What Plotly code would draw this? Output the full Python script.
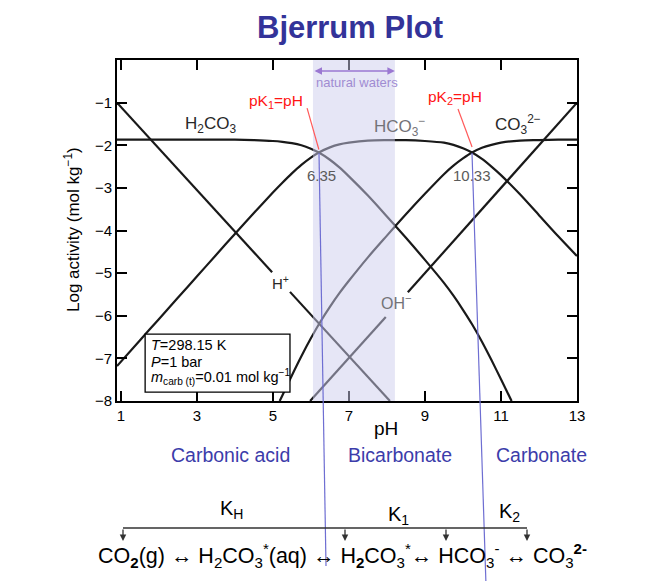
import plotly.graph_objects as go

# ---------------- data ----------------
ph_h2co3 = [0.9, 1.5, 2.0, 2.5, 3.0, 3.5, 4.0, 4.5, 5.0, 5.25, 5.5, 5.75, 6.0, 6.21,
            6.5, 6.75, 7.0, 7.5, 8.0, 8.5, 9.0, 9.5, 9.75, 10.0, 10.24, 10.5, 10.75, 11.0, 11.28]
log_h2co3 = [-1.87, -1.87, -1.87, -1.87, -1.87, -1.87, -1.87, -1.88, -1.90, -1.92, -1.95, -2.00, -2.08, -2.17,
             -2.34, -2.52, -2.73, -3.18, -3.67, -4.17, -4.69, -5.23, -5.53, -5.86, -6.20, -6.61, -7.04, -7.49, -8.0]

ph_hco3 = [0.9, 1.5, 2.0, 2.5, 3.0, 3.5, 4.0, 4.5, 5.0, 5.25, 5.5, 5.75, 6.0, 6.21, 6.5, 6.75,
           7.0, 7.5, 8.0, 8.5, 9.0, 9.5, 9.75, 10.0, 10.24, 10.5, 10.75, 11.0, 11.5, 12.0, 12.5, 13.0]
log_hco3 = [-7.18, -6.58, -6.08, -5.58, -5.08, -4.58, -4.08, -3.59, -3.11, -2.88, -2.66, -2.46, -2.29, -2.17, -2.05, -1.98,
            -1.94, -1.89, -1.88, -1.88, -1.90, -1.94, -1.99, -2.07, -2.17, -2.32, -2.50, -2.70, -3.15, -3.64, -4.13, -4.60]

ph_co3 = [5.18, 5.25, 5.5, 5.75, 6.0, 6.25, 6.5, 6.75, 7.0, 7.5, 8.0, 8.5, 9.0, 9.5, 9.75,
          10.0, 10.24, 10.5, 10.75, 11.0, 11.5, 12.0, 12.5, 13.0]
log_co3 = [-8.0, -7.87, -7.40, -6.95, -6.53, -6.14, -5.79, -5.47, -5.18, -4.63, -4.12, -3.62, -3.14, -2.68, -2.48,
           -2.31, -2.17, -2.06, -1.99, -1.94, -1.89, -1.88, -1.87, -1.87]

ph_h = [0.9, 4.98, None, 5.45, 8.08]
log_h = [-1.0, -4.98, None, -5.44, -8.0]

ph_oh = [5.98, 7.97, None, 8.55, 13.0]
log_oh = [-8.0, -6.03, None, -5.45, -1.0]

x_ticks = [1, 3, 5, 7, 9, 11, 13]
y_ticks = [-8, -7, -6, -5, -4, -3, -2, -1]

natural_waters = [6.055, 8.21]
pk1_label, pk2_label = "6.35", "10.33"
pk1_pos, pk2_pos = 6.21, 10.24

# ---------------- layout helpers ----------------
W, H = 657, 581
OFF = 8                      # page body margin offset
PLOT_L, PLOT_T = 117, 60     # plot area position on screen
PW, PHh = 460, 341
ML, MT = PLOT_L - OFF, PLOT_T - OFF
MR = W - ML - PW
MB = H - MT - PHh
def px(x):
    return (x - PLOT_L) / PW
def py(y):
    return (PLOT_T + PHh - y) / PHh

FONT = "Liberation Sans, Arial, Helvetica, sans-serif"
LINE = "rgb(25,25,25)"

fig = go.Figure()
for xs, ys in [(ph_h2co3, log_h2co3), (ph_hco3, log_hco3), (ph_co3, log_co3)]:
    fig.add_trace(go.Scatter(x=xs, y=ys, mode="lines", line=dict(color=LINE, width=2.2, shape="spline", smoothing=0.8),
                             showlegend=False, hoverinfo="skip"))
for xs, ys in [(ph_h, log_h), (ph_oh, log_oh)]:
    fig.add_trace(go.Scatter(x=xs, y=ys, mode="lines", line=dict(color=LINE, width=2.2),
                             showlegend=False, hoverinfo="skip", connectgaps=False))

shapes = [
    dict(type="rect", xref="x", yref="y", x0=natural_waters[0], x1=natural_waters[1], y0=-8, y1=0,
         fillcolor="rgb(205,205,238)", opacity=0.5, line=dict(width=0), layer="above"),
    dict(type="rect", xref="x", yref="y", x0=1.64, x1=5.45, y0=-7.79, y1=-6.43,
         fillcolor="white", line=dict(color="black", width=1.3), layer="above"),
    dict(type="line", xref="x", yref="y", x0=5.90, y0=-1.13, x1=6.21, y1=-2.10,
         line=dict(color="rgb(255,90,90)", width=1.2), layer="above"),
    dict(type="line", xref="x", yref="y", x0=9.87, y0=-1.15, x1=10.24, y1=-2.04,
         line=dict(color="rgb(255,90,90)", width=1.2), layer="above"),
    dict(type="line", xref="paper", yref="paper", x0=px(319), y0=py(153), x1=px(326), y1=py(566),
         line=dict(color="rgb(110,110,210)", width=1.2), layer="above"),
    dict(type="line", xref="paper", yref="paper", x0=px(472), y0=py(153), x1=px(486), y1=py(585),
         line=dict(color="rgb(110,110,210)", width=1.2), layer="above"),
    dict(type="line", xref="paper", yref="paper", x0=px(123), y0=py(528), x1=px(527), y1=py(528),
         line=dict(color="rgb(50,50,50)", width=1.3), layer="above"),
]

ann = []
def A(text, x, y, size, color="black", xref="x", yref="y", **kw):
    d = dict(text=text, x=x, y=y, xref=xref, yref=yref, showarrow=False,
             xanchor="center", yanchor="middle",
             font=dict(family=FONT, size=size, color=color))
    d.update(kw)
    ann.append(d)

A("<b>Bjerrum Plot</b>", px(350), py(27), 31, "rgb(51,51,153)", "paper", "paper")
A("H<sub>2</sub>CO<sub>3</sub>", 3.37, -1.52, 17, "rgb(40,40,40)")
A("HCO<sub>3</sub><sup>−</sup>", 8.33, -1.55, 17, "rgb(115,115,120)")
A("CO<sub>3</sub><sup>2−</sup>", 11.45, -1.52, 17, "rgb(40,40,40)")
A("H<sup>+</sup>", 5.19, -5.23, 15, "rgb(40,40,40)")
A("OH<sup>−</sup>", 8.26, -5.68, 16, "rgb(115,115,120)")
A(pk1_label, pk1_pos + 0.08, -2.72, 15, "rgb(90,90,90)")
A(pk2_label, pk2_pos, -2.72, 15, "rgb(90,90,90)")
A("pK<sub>1</sub>=pH", 5.08, -0.98, 15.5, "rgb(255,20,20)")
A("pK<sub>2</sub>=pH", 9.79, -0.87, 15.5, "rgb(255,20,20)")
ann.append(dict(x=natural_waters[1], y=-0.26, ax=natural_waters[0], ay=-0.26, xref="x", yref="y",
                axref="x", ayref="y", text="", showarrow=True, arrowhead=2, arrowside="end+start",
                arrowsize=1, arrowwidth=1.5, arrowcolor="rgb(155,120,210)"))
A("natural waters", 7.21, -0.52, 13, "rgb(160,140,210)")
A("<i>T</i>=298.15 K", 1.742, -6.686, 14.5, xanchor="left")
A("<i>P</i>=1 bar", 1.742, -7.085, 14.5, xanchor="left")
A("<i>m</i><sub>carb (t)</sub>=0.01 mol kg<sup>−1</sup>", 1.742, -7.437, 14.5, xanchor="left")
A("pH", px(386), py(428), 19, "black", "paper", "paper")
A("Log activity (mol kg<sup>−1</sup>)", px(72), py(230), 17, "black", "paper", "paper", textangle=-90)
A("Carbonic acid", px(230), py(455), 19.5, "rgb(60,60,170)", "paper", "paper")
A("Bicarbonate", px(400), py(455), 19.5, "rgb(60,60,170)", "paper", "paper")
A("Carbonate", px(541), py(455), 19.5, "rgb(60,60,170)", "paper", "paper")
A("K<sub>H</sub>", px(231), py(509), 20, "black", "paper", "paper")
A("K<sub>1</sub>", px(398), py(515), 20, "black", "paper", "paper")
A("K<sub>2</sub>", px(509), py(512), 20, "black", "paper", "paper")
for xa in [123, 345, 446, 527]:
    ann.append(dict(x=px(xa), y=py(541), xref="paper", yref="paper", ax=0, ay=-13, text="",
                    showarrow=True, arrowhead=2, arrowsize=1, arrowwidth=1.3, arrowcolor="rgb(50,50,50)"))
A("CO<sub><b>2</b></sub>(g) ↔ H<sub>2</sub>CO<sub>3</sub><sup>*</sup>(aq) ↔ H<sub><b>2</b></sub>CO<sub>3</sub><sup>*</sup>↔ "
  "HCO<sub>3</sub><sup>-</sup> ↔ CO<sub>3</sub><sup><b>2-</b></sup>",
  px(342), py(555), 21.5, "black", "paper", "paper")

axis_common = dict(showline=True, linewidth=2, linecolor="black", mirror="ticks", ticks="inside",
                   ticklen=10, tickwidth=1.5, tickcolor="black", showgrid=False, zeroline=False,
                   tickfont=dict(family=FONT, size=15, color="black"))
fig.update_layout(
    width=W, height=H, margin=dict(l=ML, r=MR, t=MT, b=MB, autoexpand=False),
    paper_bgcolor="white", plot_bgcolor="white",
    xaxis=dict(range=[0.9, 13], tickvals=x_ticks, **axis_common),
    yaxis=dict(range=[-8, 0], tickvals=y_ticks, **axis_common),
    shapes=shapes, annotations=ann, showlegend=False,
    font=dict(family=FONT),
)
fig.write_html("out.html")
